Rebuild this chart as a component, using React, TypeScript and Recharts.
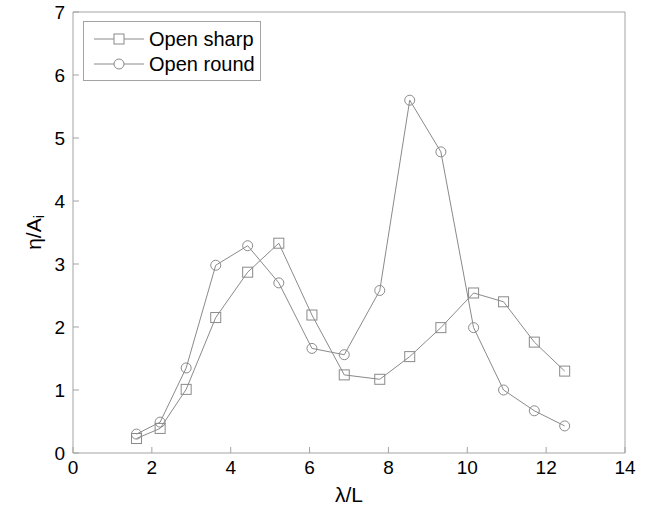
import React from 'react';
import { LineChart, Line, XAxis, YAxis } from 'recharts';

// values
const lambdaL = [1.61, 2.21, 2.87, 3.62, 4.43, 5.22, 6.06, 6.88, 7.78, 8.54, 9.33, 10.16, 10.92, 11.7, 12.47];
const openSharp = [0.23, 0.39, 1.01, 2.15, 2.87, 3.33, 2.19, 1.24, 1.17, 1.53, 1.99, 2.54, 2.4, 1.76, 1.3];
const openRound = [0.3, 0.49, 1.35, 2.98, 3.29, 2.7, 1.66, 1.56, 2.58, 5.6, 4.78, 1.99, 1.0, 0.67, 0.43];
const seriesNames = ['Open sharp', 'Open round'];
const xTicks = [0, 2, 4, 6, 8, 10, 12, 14];
const yTicks = [0, 1, 2, 3, 4, 5, 6, 7];

const data = lambdaL.map((x, i) => ({ x, sharp: openSharp[i], round: openRound[i] }));

const FONT = '"Liberation Sans", Arial, Helvetica, sans-serif';
const LINE = '#8a8a8a';
const AXIS = '#a3a3a3';

const SquareDot = (props: any) => {
  const { cx, cy, index } = props;
  if (cx == null || cy == null) return <g key={index} />;
  return <rect key={index} x={cx - 5} y={cy - 5} width={10} height={10} fill="none" stroke={LINE} strokeWidth={1} />;
};

// legend drawn as an overlay box in the upper-left corner of the plot
const LegendBox = () => (
  <div
    style={{
      position: 'absolute',
      left: 83,
      top: 21,
      width: 176,
      height: 58,
      border: `1px solid ${AXIS}`,
      background: '#fff',
      fontFamily: FONT,
    }}
  >
    {seriesNames.map((name, i) => (
      <div key={name} style={{ position: 'absolute', left: 0, top: 4 + i * 25, height: 25, display: 'flex', alignItems: 'center' }}>
        <svg width={64} height={20} style={{ display: 'block' }}>
          <line x1={10} x2={60} y1={10} y2={10} stroke={LINE} strokeWidth={1} />
          {i === 0 ? (
            <rect x={30} y={5} width={10} height={10} fill="#fff" stroke={LINE} />
          ) : (
            <circle cx={35} cy={10} r={5} fill="#fff" stroke={LINE} />
          )}
        </svg>
        <span style={{ fontSize: 20, color: '#000', marginLeft: 1, lineHeight: '20px', whiteSpace: 'nowrap' }}>{name}</span>
      </div>
    ))}
  </div>
);

const YLabel = (props: any) => {
  const vb = props.viewBox;
  const cx = 33;
  const cy = vb.y + vb.height / 2;
  return (
    <text x={cx} y={cy} transform={`rotate(-90 ${cx} ${cy})`} textAnchor="middle" dominantBaseline="central" fontSize={21} fontFamily={FONT} fill="#000">
      η/A<tspan fontSize={14} dy={6}>i</tspan>
    </text>
  );
};

const XLabel = (props: any) => {
  const vb = props.viewBox;
  return (
    <text x={vb.x + vb.width / 2} y={502} textAnchor="middle" fontSize={21} fontFamily={FONT} fill="#000">
      λ/L
    </text>
  );
};

export default function App() {
  return (
    <div style={{ position: 'relative', width: 653, height: 508, background: '#fff' }}>
      <style>{'body{margin:0}'}</style>
      <LineChart width={653} height={508} data={data} margin={{ top: 11, right: 27, left: 33, bottom: 25 }}>
        <XAxis
          xAxisId="bottom"
          dataKey="x"
          type="number"
          domain={[0, 14]}
          ticks={xTicks}
          height={30}
          stroke={AXIS}
          tickSize={-6}
          tickMargin={14}
          tick={{ fill: '#000', fontSize: 19, fontFamily: FONT }}
          label={<XLabel />}
        />
        <XAxis
          xAxisId="top"
          orientation="top"
          dataKey="x"
          type="number"
          domain={[0, 14]}
          ticks={xTicks}
          height={1}
          stroke={AXIS}
          tickSize={-6}
          tick={false}
        />
        <YAxis
          yAxisId="left"
          type="number"
          domain={[0, 7]}
          ticks={yTicks}
          width={40}
          stroke={AXIS}
          tickSize={-6}
          tickMargin={14}
          tick={{ fill: '#000', fontSize: 19, fontFamily: FONT }}
          label={<YLabel />}
        />
        <YAxis
          yAxisId="right"
          orientation="right"
          type="number"
          domain={[0, 7]}
          ticks={yTicks}
          width={1}
          stroke={AXIS}
          tickSize={-6}
          tick={false}
        />
        <Line
          xAxisId="bottom"
          yAxisId="left"
          name={seriesNames[0]}
          dataKey="sharp"
          stroke={LINE}
          strokeWidth={1}
          dot={SquareDot}
          activeDot={false}
          isAnimationActive={false}
        />
        <Line
          xAxisId="bottom"
          yAxisId="left"
          name={seriesNames[1]}
          dataKey="round"
          stroke={LINE}
          strokeWidth={1}
          dot={{ r: 5, fill: 'none', stroke: LINE, strokeWidth: 1 }}
          activeDot={false}
          isAnimationActive={false}
        />
      </LineChart>
      <LegendBox />
    </div>
  );
}
